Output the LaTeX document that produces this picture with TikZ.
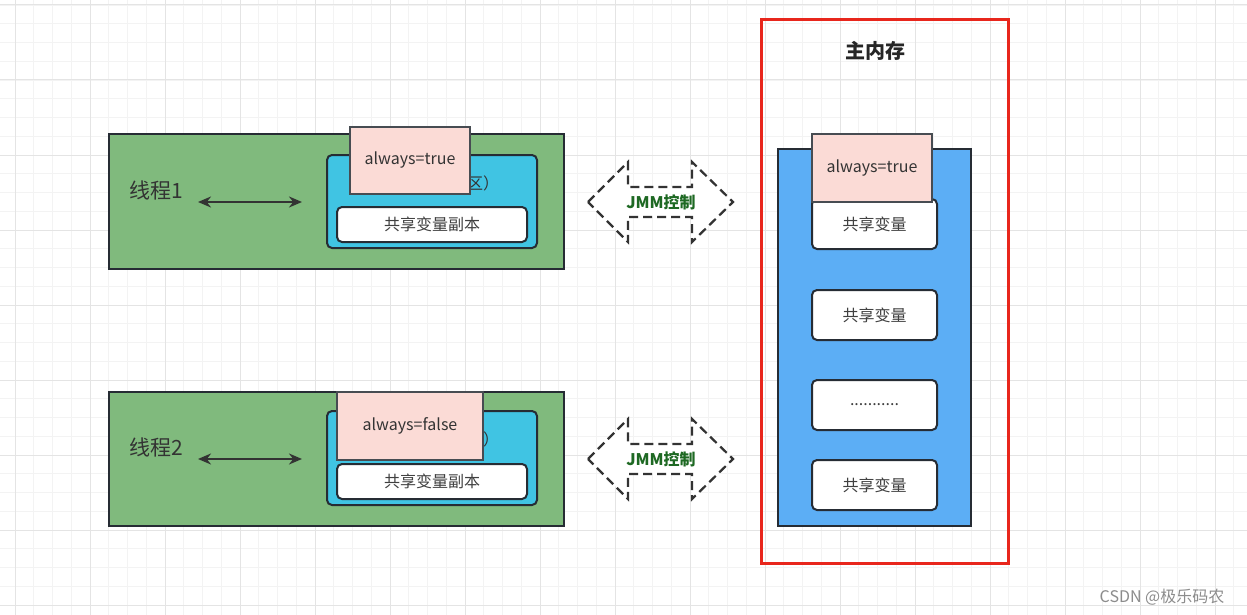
\documentclass[tikz,border=0pt]{standalone}
\usepackage{fontspec}
\setmainfont{Noto Sans CJK SC}
\usetikzlibrary{arrows.meta}
\definecolor{gmaj}{RGB}{228,228,228}
\definecolor{gmin}{RGB}{243,243,243}
\definecolor{thrgreen}{RGB}{128,186,125}
\definecolor{wmcyan}{RGB}{64,196,227}
\definecolor{mmblue}{RGB}{92,174,245}
\definecolor{pinkfill}{RGB}{251,219,214}
\definecolor{edgedark}{RGB}{38,44,52}
\definecolor{redframe}{RGB}{232,38,28}
\definecolor{jmmgreen}{RGB}{30,105,35}
\definecolor{wmgrey}{RGB}{140,140,140}
\tikzset{
  fs/.style={font=\fontsize{#1}{#1}\selectfont},
  threadbox/.style={draw=edgedark, line width=2pt, fill=thrgreen, inner sep=0pt},
  workbox/.style={draw=edgedark, line width=2pt, fill=wmcyan, rounded corners=5pt, inner sep=0pt},
  mainbox/.style={draw=edgedark, line width=2pt, fill=mmblue, inner sep=0pt},
  varbox/.style={draw=edgedark, line width=2pt, fill=white, rounded corners=5pt, inner sep=0pt, text=black!75, fs=16},
  flagbox/.style={draw=edgedark!85, line width=1.3pt, fill=pinkfill, inner sep=0pt, text=black!80, fs=16},
  linkarrow/.style={draw=black!80, line width=2.6pt, {Stealth[length=13pt,width=11pt]}-{Stealth[length=13pt,width=11pt]}},
  jmmshape/.style={draw=black!80, line width=2.2pt, dash pattern=on 9pt off 5pt, fill=white},
  jmmtext/.style={text=jmmgreen, font=\fontsize{16}{16}\selectfont\bfseries},
  thrlabel/.style={text=black!80, fs=21, inner sep=0pt}
}
\begin{document}
\begin{tikzpicture}[x=1pt,y=-1pt]
\useasboundingbox (0,0) rectangle (1247,615);
\fill[white] (0,0) rectangle (1247,615);
% grid
\foreach \k in {0,...,67}{\draw[gmin, line width=0.8pt] ({-3.75+18.75*\k},0) -- ({-3.75+18.75*\k},615);}
\foreach \k in {0,...,33}{\draw[gmin, line width=0.8pt] (0,{-13.75+18.75*\k}) -- (1247,{-13.75+18.75*\k});}
\foreach \k in {0,...,16}{\draw[gmaj, line width=1pt] ({15+75*\k},0) -- ({15+75*\k},615);}
\foreach \k in {0,...,8}{\draw[gmaj, line width=1pt] (0,{5+75*\k}) -- (1247,{5+75*\k});}

% ---------- Thread 1 ----------
\node[threadbox, minimum width=455, minimum height=135] (t1) at (336.5,201.5) {};
\node[thrlabel] (t1lab) at (156,190) {线程1};
\coordinate (t1aL) at (198,202);
\coordinate (t1aR) at (302,202);
\draw[linkarrow] (t1aL) -- (t1aR);
\node[workbox, minimum width=210, minimum height=93] (w1) at (432,201.5) {};
\node[anchor=west, inner sep=0pt, fs=16, text=black!80] (w1lab) at (467,183) {区）};
\node[varbox, minimum width=190, minimum height=35] (v1) at (432,224.5) {共享变量副本};
\node[flagbox, minimum width=120, minimum height=67] (f1) at (410,160.5) {always=true};

% ---------- Thread 2 ----------
\node[threadbox, minimum width=455, minimum height=134] (t2) at (336.5,459) {};
\node[thrlabel] (t2lab) at (156,447) {线程2};
\coordinate (t2aL) at (198,459);
\coordinate (t2aR) at (302,459);
\draw[linkarrow] (t2aL) -- (t2aR);
\node[workbox, minimum width=210, minimum height=94] (w2) at (432,458) {};
\node[anchor=west, inner sep=0pt, fs=16, text=black!80] (w2lab) at (467,439) {区）};
\node[varbox, minimum width=190, minimum height=35] (v2) at (432,481.5) {共享变量副本};
\node[flagbox, minimum width=146, minimum height=68] (f2) at (410,426) {always=false};

% ---------- JMM arrows ----------
\draw[jmmshape] (588,202) -- (628,162) -- (628,187) -- (692,187) -- (692,162) -- (733,202)
  -- (692,242) -- (692,217) -- (628,217) -- (628,242) -- cycle;
\node[jmmtext] (j1) at (661,202) {JMM控制};
\draw[jmmshape] (588,459) -- (628,419) -- (628,444) -- (692,444) -- (692,419) -- (733,459)
  -- (692,499) -- (692,474) -- (628,474) -- (628,499) -- cycle;
\node[jmmtext] (j2) at (661,459) {JMM控制};

% ---------- Main memory ----------
\node[draw=redframe, line width=3pt, minimum width=247, minimum height=543, inner sep=0pt] (mm) at (884.5,291.5) {};
\node[text=black!85, font=\fontsize{20}{20}\selectfont\bfseries] (mmlab) at (875,51) {主内存};
\node[mainbox, minimum width=193, minimum height=377] (mb) at (874.5,337.5) {};
\node[varbox, minimum width=125, minimum height=50] (m1) at (874.5,224) {共享变量};
\node[varbox, minimum width=125, minimum height=50] (m2) at (874.5,315) {共享变量};
\node[varbox, minimum width=125, minimum height=50] (m3) at (874.5,405) {...........};
\node[varbox, minimum width=125, minimum height=50] (m4) at (874.5,485) {共享变量};
\node[flagbox, minimum width=120, minimum height=68] (fm) at (872,168) {always=true};

% watermark
\node[text=wmgrey, fs=16, inner sep=0pt] (wm) at (1162,597) {CSDN @极乐码农};
\end{tikzpicture}
\end{document}
